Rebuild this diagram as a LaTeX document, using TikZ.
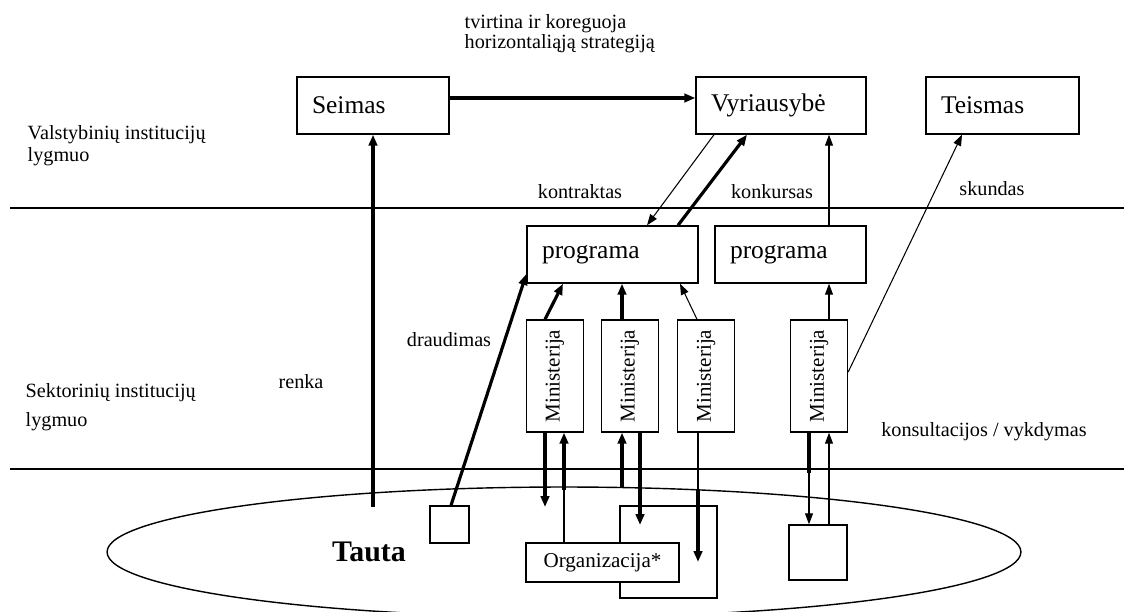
\documentclass[tikz,border=0pt]{standalone}
\usepackage{fontspec}
\setmainfont{Liberation Serif}
\usetikzlibrary{calc,positioning,arrows.meta}

\begin{document}
\begin{tikzpicture}[x=0.02cm, y=-0.02cm, line width=.8pt,
            sblock/.style={
            draw,
            fill=white,
            rectangle,
            minimum height=1.14cm,
            inner xsep=0.3cm,
            align=left,
            font=\fontsize{14.5}{16}\selectfont},
            mblock/.style={
            draw,
            fill=white,
            rectangle,
            minimum width=1.14cm,
            minimum height=2.24cm},
            qblock/.style={
            draw,
            fill=white,
            rectangle,
            inner sep=0pt},
            lbl/.style={font=\fontsize{11.5}{13}\selectfont, inner sep=0pt},
            thk/.style={line width=1.8pt, -{Triangle[length=2.2mm,width=1.7mm]}},
            thn/.style={line width=.6pt, -{Triangle[length=2.2mm,width=1.6mm]}}]

    \useasboundingbox (0,0) rectangle (1124,611);
    \clip (0,0) rectangle (1124,611);

    % levels
    \draw (564,552) ellipse [x radius=9.14cm, y radius=1.3cm];
    \draw (10,208) -- (1124,208);
    \draw (10,469) -- (1124,469);

    % state level
    \node[sblock, text width=2.44cm] (seimas) at (373,105.5) {Seimas};
    \node[sblock, text width=2.8cm] (vyr) at (781,105.5) {Vyriausybė};
    \node[sblock, text width=2.46cm] (teismas) at (1002.5,105.5) {Teismas};

    % sector level
    \node[sblock, text width=2.82cm] (prog1) at (612.5,254.5) {programa};
    \node[sblock, text width=2.42cm] (prog2) at (790.5,254.5) {programa};
    \foreach \i/\x in {1/555,2/630,3/706,4/819}
    {
        \node[mblock] (min\i) at (\x,376) {};
        \node[rotate=90, font=\fontsize{12}{13}\selectfont] (minT\i) at (\x,376) {Ministerija};
    }

    % nation
    \node[qblock, minimum width=0.78cm, minimum height=0.74cm] (sq1) at (449.5,524.5) {};
    \node[qblock, minimum width=1.94cm, minimum height=1.84cm] (sq3) at (668.5,552) {};
    \node[qblock, minimum width=3.06cm, minimum height=0.78cm, font=\fontsize{12}{13}\selectfont] (org) at (602.5,562.5) {Organizacija*};
    \node[qblock, minimum width=1.16cm, minimum height=1.1cm] (sq2) at (818,552.5) {};
    \node[font=\bfseries\fontsize{17}{19}\selectfont] (tauta) at (369,552) {Tauta};

    % free ends
    \coordinate (tautaTop) at (373,507);
    \coordinate (d1) at (545,507);
    \coordinate (e1) at (564,490);
    \coordinate (e2) at (622,488);
    \coordinate (d2) at (640,525);
    \coordinate (e3) at (698,490);
    \coordinate (d3) at (698,562);
    \coordinate (e4) at (809,473);

    % connectors
    \draw[thk] (tautaTop) -- (seimas.south);
    \draw[thk] (seimas.east |- 0,98) -- (vyr.west |- 0,98);
    \draw[thn] (vyr.south -| 714,0) -- (prog1.north -| 647,0);
    \draw[thk] (prog1.north -| 678,0) -- (vyr.south -| 747,0);
    \draw[thn] (prog2.north -| 829,0) -- (vyr.south -| 829,0);
    \draw[thn] (min4.east |- 0,372) -- (teismas.south -| 962,0);
    \draw[thn] (min4.north -| 829,0) -- (prog2.south -| 829,0);
    \draw[thk] (min1.north -| 545,0) -- (prog1.south -| 563,0);
    \draw[thk] (min2.north -| 622,0) -- (prog1.south -| 622,0);
    \draw[thn] (min3.north -| 697,0) -- (prog1.south -| 680,0);
    \draw[thk] (sq1.north -| 451,0) -- (prog1.west |- 0,274);

    \draw[thk] (min1.south -| 545,0) -- (d1);
    \draw[line width=.6pt] (org.north -| 564,0) -- (e1);
    \draw[thk] (e1) -- (min1.south -| 564,0);
    \draw[thk] (e2) -- (min2.south -| 622,0);
    \draw[thk] (min2.south -| 640,0) -- (d2);
    \draw[line width=.6pt] (min3.south -| 698,0) -- (e3);
    \draw[thk] (e3) -- (d3);
    \draw[line width=1.8pt] (min4.south -| 809,0) -- (e4);
    \draw[thn] (e4) -- (sq2.north -| 809,0);
    \draw[thn] (sq2.north -| 829,0) -- (min4.south -| 829,0);

    % labels
    \node[lbl, align=left, anchor=west, font=\fontsize{11.5}{10.2}\selectfont] (strat) at (464,34) {tvirtina ir koreguoja\\horizontaliąją strategiją};
    \node[lbl, align=left, anchor=west, font=\fontsize{11.5}{12.5}\selectfont] (vlevel) at (27,146) {Valstybinių institucijų\\lygmuo};
    \node[lbl, align=left, anchor=west, font=\fontsize{11.5}{16.4}\selectfont] (slevel) at (25,407.5) {Sektorinių institucijų\\lygmuo};
    \node[lbl] (renka) at (301,382) {renka};
    \node[lbl] (draud) at (449,340) {draudimas};
    \node[lbl] (kontr) at (580,192) {kontraktas};
    \node[lbl] (konk) at (772,192) {konkursas};
    \node[lbl] (skund) at (992,189) {skundas};
    \node[lbl] (konsult) at (984,432) {konsultacijos / vykdymas};
\end{tikzpicture}
\end{document}
